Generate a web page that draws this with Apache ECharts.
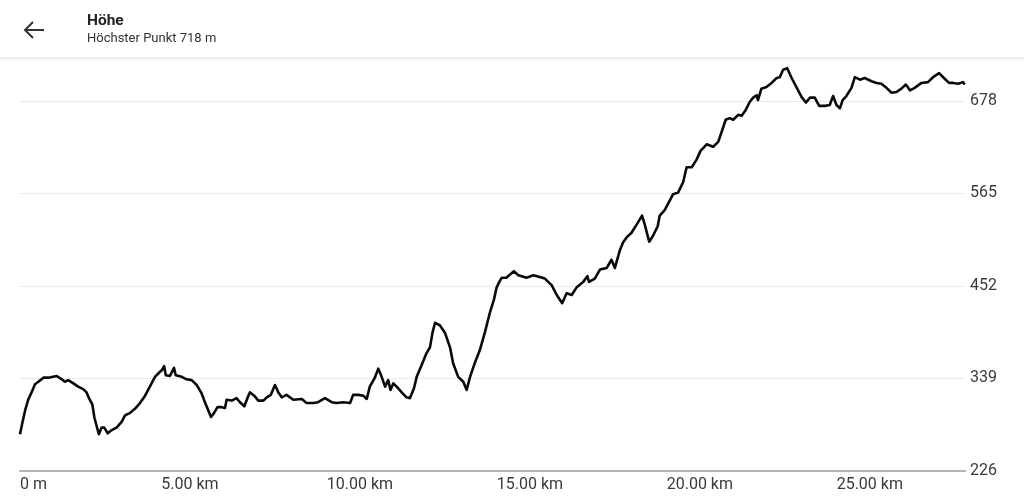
<!DOCTYPE html>
<html>
<head>
<meta charset="utf-8">
<script src="https://cdn.jsdelivr.net/npm/echarts@6/dist/echarts.min.js"></script>
<style>
html,body{margin:0;padding:0;background:#fff;}
#c{width:1024px;height:498px;}
</style>
</head>
<body>
<div id="c"></div>
<script>
// Distance along the route (km)
const distKm = [
0,0.07,0.15,0.24,0.34,0.44,0.54,0.69,0.83,1.08,1.23,1.32,1.42,1.57,1.71,1.86,1.96,2.03,2.13,2.19,
2.26,2.32,2.40,2.48,2.58,2.70,2.84,2.99,3.09,3.24,3.38,3.53,3.68,3.82,3.97,4.09,4.17,4.24,4.29,4.41,
4.53,4.58,4.76,4.90,5.05,5.20,5.34,5.44,5.54,5.62,5.71,5.81,5.93,6.03,6.08,6.23,6.37,6.47,6.60,6.70,
6.76,6.89,7.01,7.16,7.26,7.38,7.50,7.60,7.70,7.84,8.04,8.29,8.43,8.63,8.77,8.97,9.17,9.31,9.51,9.71,
9.80,9.95,10.10,10.20,10.29,10.44,10.54,10.64,10.74,10.83,10.90,10.98,11.08,11.23,11.37,11.47,11.59,11.67,11.81,11.96,
12.06,12.14,12.21,12.26,12.35,12.50,12.65,12.74,12.89,13.04,13.14,13.24,13.38,13.53,13.68,13.82,13.94,14.02,14.10,14.17,
14.31,14.39,14.53,14.66,14.90,15.10,15.29,15.44,15.64,15.79,15.95,16.08,16.23,16.37,16.57,16.69,16.74,16.91,17.06,17.26,
17.40,17.50,17.65,17.74,17.86,17.99,18.14,18.30,18.38,18.51,18.63,18.76,18.82,18.97,19.07,19.21,19.36,19.51,19.61,19.76,
19.90,20.02,20.20,20.39,20.54,20.64,20.76,20.88,20.98,21.13,21.23,21.35,21.47,21.57,21.67,21.71,21.81,21.96,22.11,22.26,
22.35,22.45,22.57,22.70,22.84,22.99,23.12,23.24,23.38,23.51,23.68,23.82,23.92,24.02,24.12,24.20,24.31,24.46,24.56,24.71,
24.85,25.05,25.20,25.34,25.49,25.64,25.79,25.93,26.06,26.18,26.32,26.52,26.71,26.86,27.04,27.18,27.33,27.45,27.60,27.74,
27.79
];
// Elevation (m)
const elevM = [
271,285,300,313,322,332,335,340,340,342,338,335,337,333,329,326,322,315,307,291,
280,271,279,279,272,276,279,286,294,297,302,309,318,329,341,346,349,354,343,342,
352,343,341,338,337,331,321,310,300,292,297,304,304,303,313,312,315,310,305,316,
322,318,312,312,316,319,331,322,316,319,313,314,309,309,310,315,310,309,310,309,
319,319,318,314,329,340,351,341,329,337,325,333,329,322,316,315,327,341,355,370,
377,396,407,409,404,395,377,358,341,335,325,341,358,374,396,419,435,450,457,462,
462,465,470,465,462,465,463,461,453,441,431,443,441,450,457,464,457,461,472,474,
484,474,496,505,512,517,527,538,527,506,514,525,538,545,553,564,566,579,597,597,
606,617,625,622,628,640,655,657,655,661,660,667,677,682,685,679,693,695,700,706,
707,716,718,706,695,683,676,682,682,672,672,673,684,673,669,679,684,694,707,704,
706,702,700,699,694,688,689,693,698,691,694,700,701,707,712,706,700,700,699,701,
698
];
const yTicks = [226, 339, 452, 565, 678];
const xTickValues = [0, 5, 10, 15, 20, 25];
const xTickLabels = ['0 m', '5.00 km', '10.00 km', '15.00 km', '20.00 km', '25.00 km'];
const titleText = 'Höhe';
const subtitleText = 'Höchster Punkt 718 m';

const seriesData = distKm.map((d, i) => [d, elevM[i]]);

const chart = echarts.init(document.getElementById('c'), null, {renderer: 'canvas'});
chart.setOption({
  animation: false,
  backgroundColor: '#fff',
  grid: {left: 20, right: 59, top: 60, bottom: 27, containLabel: false},
  xAxis: {
    type: 'value',
    min: 0,
    max: 27.8,
    interval: 5,
    axisLine: {show: true, lineStyle: {color: '#b3b3b3', width: 2}},
    axisTick: {show: false},
    splitLine: {show: false},
    axisLabel: {
      margin: 6,
      fontFamily: 'Roboto',
      fontSize: 16,
      color: '#3a3a3a',
      alignMinLabel: 'left',
      showMaxLabel: false,
      formatter: function (v) {
        const idx = xTickValues.findIndex(t => Math.abs(t - v) < 1e-6);
        return idx >= 0 ? xTickLabels[idx] : '';
      }
    }
  },
  yAxis: {
    type: 'value',
    position: 'right',
    min: 226,
    max: 728,
    interval: 113,
    axisLine: {show: false},
    axisTick: {show: false},
    splitLine: {show: true, showMinLine: false, showMaxLine: false, lineStyle: {color: '#ebebeb', width: 1}},
    axisLabel: {
      margin: 5,
      fontFamily: 'Roboto',
      fontSize: 16,
      color: '#3a3a3a',
      showMaxLabel: false,
      formatter: function (v) {
        return yTicks.indexOf(Math.round(v)) >= 0 && Math.abs(v - Math.round(v)) < 1e-6 ? String(Math.round(v)) : '';
      }
    }
  },
  series: [{
    type: 'line',
    data: seriesData,
    showSymbol: false,
    symbol: 'none',
    smooth: false,
    lineStyle: {color: '#0a0a0a', width: 2.6, join: 'round'}
  }],
  graphic: [
    {type: 'rect', left: 0, top: 0, shape: {width: 1024, height: 57}, style: {fill: '#fff'}, silent: true},
    {type: 'rect', left: 0, top: 57, shape: {width: 1024, height: 4},
      style: {fill: new echarts.graphic.LinearGradient(0, 0, 0, 1, [{offset: 0, color: '#e4e4e4'}, {offset: 1, color: '#ffffff'}])}, silent: true},
    {type: 'polyline', shape: {points: [[25, 30], [44, 30]]}, style: {stroke: '#333', lineWidth: 2, fill: null}},
    {type: 'polyline', shape: {points: [[33, 22], [25, 30], [33, 38]]}, style: {stroke: '#333', lineWidth: 2, fill: null, lineJoin: 'miter'}},
    {type: 'text', x: 87, y: 13, style: {text: titleText, font: 'bold 15.5px Roboto', fill: '#222'}},
    {type: 'text', x: 87, y: 32, style: {text: subtitleText, font: '13px Roboto', fill: '#333'}}
  ]
});
</script>
</body>
</html>
